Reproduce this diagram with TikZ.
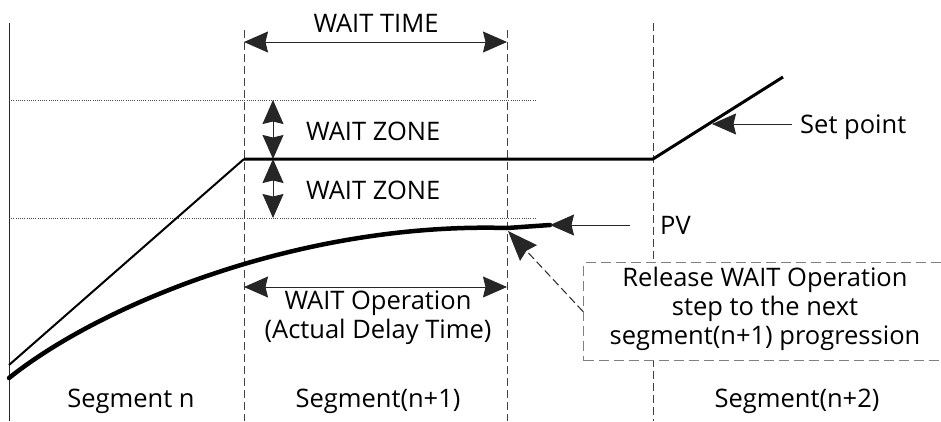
\documentclass[tikz,border=0pt]{standalone}
\usepackage{fontspec}
\setmainfont{Open Sans}
\usetikzlibrary{arrows.meta}
\begin{document}
\begin{tikzpicture}[x=1pt,y=-1pt,
  txt/.style={font=\fontsize{25.5}{29}\selectfont, inner sep=0pt},
  tip/.tip={Stealth[length=24pt,width=21pt,inset=2.5pt]},
  bigtip/.tip={Stealth[length=30pt,width=23pt,inset=3pt]},
  big/.style={-tip},
  bigboth/.style={tip-tip},
  thinline/.style={line width=1pt, black!85},
  segdash/.style={line width=1pt, black!75, dash pattern=on 8pt off 4pt},
  dotline/.style={line width=0.8pt, black!70, dash pattern=on 1pt off 1.2pt},
  calldash/.style={line width=1pt, black!50, dash pattern=on 10pt off 5pt}]
\useasboundingbox (0,0) rectangle (941,421);
% coordinates
\coordinate (axT) at (9,23);
\coordinate (axB) at (9,421);
\coordinate (d1T) at (244,30);
\coordinate (d1B) at (244,421);
\coordinate (d2T) at (507,30);
\coordinate (d2B) at (507,421);
\coordinate (d3T) at (653,23);
\coordinate (d3B) at (653,421);
\coordinate (zu1) at (9,100);
\coordinate (zu2) at (537,100);
\coordinate (zl1) at (9,218);
\coordinate (zl2) at (537,218);
\coordinate (sp0) at (9,365);
\coordinate (sp1) at (244,159);
\coordinate (sp2) at (653,159);
\coordinate (sp3) at (783,77);
\coordinate (wtL) at (244,42);
\coordinate (wtR) at (507,42);
\coordinate (wzA) at (273,100);
\coordinate (wzB) at (273,159);
\coordinate (wzC) at (273,218);
\coordinate (woL) at (244,287);
\coordinate (woR) at (507,287);
\coordinate (pv0) at (9,378);
\coordinate (pv1) at (507,228);
\coordinate (pvE) at (550,225);
\coordinate (pvT) at (630,225);
\coordinate (spA) at (712,124);
\coordinate (spT) at (792,124);
\coordinate (rel) at (508,231);
% axis and segment boundaries
\draw[thinline] (axT) -- (axB);
\draw[segdash] (d1T) -- (d1B);
\draw[segdash] (d2T) -- (d2B);
\draw[segdash] (d3T) -- (d3B);
% wait zone limits
\draw[dotline] (zu1) -- (zu2);
\draw[dotline] (zl1) -- (zl2);
% set point
\draw[line width=2pt] (sp0) -- (sp1);
\draw[line width=3pt, line join=miter] (sp1) -- (sp2) -- (sp3);
% PV
\draw[line width=4.5pt, line cap=round] (pv0) .. controls (100,305) and (300,222) .. (pv1) -- (pvE);
% wait time
\draw[thinline, bigboth] (wtL) -- (wtR);
\node[txt, anchor=base] (wt) at (376,32) {WAIT TIME};
% wait zones
\draw[thinline, bigboth] (wzA) -- (wzB);
\draw[thinline, bigboth] (wzB) -- (wzC);
\node[txt, anchor=base west] (wz1) at (306,140) {WAIT ZONE};
\node[txt, anchor=base west] (wz2) at (306,199) {WAIT ZONE};
% wait operation
\draw[thinline, bigboth] (woL) -- (woR);
\node[txt, align=center] (wo) at (378,318) {WAIT Operation\\(Actual Delay Time)};
% PV label
\node[txt, anchor=base west] (pv) at (660,234) {PV};
\draw[thinline, big] (pvT) -- (pvE);
% Set point label
\node[txt, anchor=base west] (spl) at (800,133) {Set point};
\draw[thinline, big] (spT) -- (spA);
% callout
\node[calldash, draw, fill=white, minimum width=362pt, minimum height=98pt, anchor=north west, inner sep=0pt] (box) at (583,262) {};
\node[txt, align=center] (boxt) at (765,309) {Release WAIT Operation\\step to the next\\segment(n+1) progression};
\draw[-bigtip, line width=1pt, black!85, dash pattern=on 8pt off 4pt] (box.west) -- (rel);
% segment labels
\node[txt, anchor=base] (s1) at (131,407) {Segment n};
\node[txt, anchor=base] (s2) at (378,407) {Segment(n+1)};
\node[txt, anchor=base] (s3) at (797,407) {Segment(n+2)};
\end{tikzpicture}
\end{document}
